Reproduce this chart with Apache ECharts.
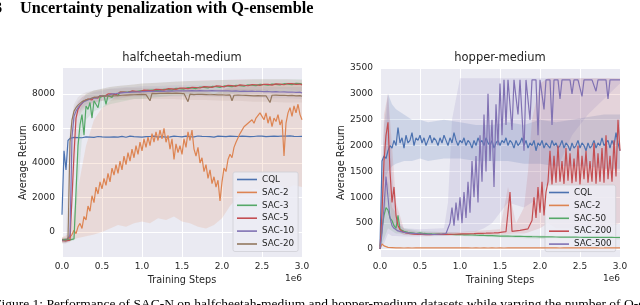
<!DOCTYPE html>
<html>
<head>
<meta charset="utf-8">
<script src="https://cdn.jsdelivr.net/npm/echarts@6/dist/echarts.min.js"></script>
<style>html,body{margin:0;padding:0;background:#fff;}#c{width:640px;height:305px;}</style>
</head>
<body>
<div id="c"></div>
<script>
// ---------- data ----------
const steps = [0,0.025,0.05,0.075,0.1,0.125,0.15,0.175,0.2,0.225,
0.25,0.275,0.3,0.325,0.35,0.375,0.4,0.425,0.45,0.475,
0.5,0.525,0.55,0.575,0.6,0.625,0.65,0.675,0.7,0.725,
0.75,0.775,0.8,0.825,0.85,0.875,0.9,0.925,0.95,0.975,
1,1.025,1.05,1.075,1.1,1.125,1.15,1.175,1.2,1.225,
1.25,1.275,1.3,1.325,1.35,1.375,1.4,1.425,1.45,1.475,
1.5,1.525,1.55,1.575,1.6,1.625,1.65,1.675,1.7,1.725,
1.75,1.775,1.8,1.825,1.85,1.875,1.9,1.925,1.95,1.975,
2,2.025,2.05,2.075,2.1,2.125,2.15,2.175,2.2,2.225,
2.25,2.275,2.3,2.325,2.35,2.375,2.4,2.425,2.45,2.475,
2.5,2.525,2.55,2.575,2.6,2.625,2.65,2.675,2.7,2.725,
2.75,2.775,2.8,2.825,2.85,2.875,2.9,2.925,2.95,2.975,
3];

const xTicks = [0, 0.5, 1, 1.5, 2, 2.5, 3];
const hcYTicks = [0, 2000, 4000, 6000, 8000];
const hpYTicks = [0, 500, 1000, 1500, 2000, 2500, 3000, 3500];

// halfcheetah-medium
const hcCQL = [1000,4700,3600,5300,5420,5450,5480,5430,5470,5500,
5460,5490,5510,5470,5500,5520,5480,5510,5530,5490,
5510,5540,5500,5520,5490,5530,5510,5550,5500,5520,
5540,5510,5490,5530,5550,5500,5520,5540,5510,5530,
5500,5540,5520,5490,5530,5510,5550,5520,5500,5540,
5520,5530,5500,5540,5510,5520,5550,5500,5530,5540,
5510,5530,5550,5500,5520,5540,5510,5530,5560,5520,
5540,5510,5530,5550,5520,5540,5500,5530,5550,5520,
5540,5560,5520,5530,5550,5510,5540,5560,5530,5520,
5550,5530,5540,5560,5520,5550,5530,5540,5560,5530,
5550,5540,5520,5560,5540,5530,5550,5570,5540,5530,
5560,5540,5550,5530,5570,5550,5540,5560,5530,5550,
5540];
const hcSac2 = [-450,-420,-480,-380,-300,-150,100,-100,300,500,
200,900,700,1500,1200,2100,1700,2600,2200,2900,
2500,3100,2700,3400,2900,3700,3300,3900,3400,4100,
3600,4400,3900,4600,4100,4800,4300,5000,4500,5200,
4700,5400,4900,5500,5000,5700,5200,5800,5300,5900,
5400,6000,5200,5600,4800,5400,4200,5100,4600,5000,
4500,5400,4900,5800,5300,5900,4800,4400,4900,4000,
4300,3500,3900,3100,3600,2800,3200,2600,3000,1800,
2900,3700,3500,4200,4500,4300,4900,5200,5300,5700,
5800,6100,6000,6300,6200,6500,6300,6600,6500,6900,
6700,6500,6900,6300,6700,6100,6600,6400,6800,6200,
6500,4400,6300,6900,7200,6700,7300,6900,7400,6800,
6500];
const hcSac3 = [-450,-480,-420,-500,-460,-430,-400,-300,5000,6200,
6800,5600,7300,7100,7500,6600,7600,7700,7200,7800,
7700,7900,7400,7900,8000,7800,8000,8050,7900,8100,
8050,8100,8000,8120,8080,8150,8050,8130,8100,8170,
8120,8180,8100,8200,8150,8220,8130,8200,8250,8180,
8230,8270,8200,8260,8300,8220,8290,8320,8250,8300,
8340,8280,8320,8360,8300,8350,8380,8310,8360,8400,
8330,8380,8410,8350,8400,8430,8370,8420,8450,8380,
8430,8460,8400,8450,8480,8420,8470,8500,8440,8480,
8510,8450,8490,8530,8460,8500,8540,8480,8520,8550,
8490,8530,8560,8500,8540,8570,8510,8550,8580,8520,
8560,8590,8530,8570,8600,8540,8580,8610,8550,8590,
8570];
const hcSac5 = [-500,-470,-520,-440,-480,-400,4500,6600,7100,7300,
7450,7600,7500,7700,7750,7650,7800,7850,7750,7900,
7900,7850,7950,8000,7900,8000,8050,7950,8050,8100,
8050,8100,8150,8080,8120,8170,8100,8150,8200,8130,
8180,8220,8150,8200,8240,8180,8230,8260,8200,8250,
8280,8220,8270,8300,8240,8290,8320,8260,8310,8340,
8280,8330,8360,8300,8350,8380,8320,8370,8400,8340,
8390,8420,8360,8410,8440,8380,8430,8460,8400,8450,
8470,8410,8460,8490,8430,8480,8500,8440,8490,8520,
8460,8500,8530,8470,8520,8540,8480,8530,8550,8490,
8540,8560,8500,8550,8570,8510,8560,8580,8520,8570,
8590,8530,8580,8600,8540,8590,8610,8550,8600,8570,
8520];
const hcSac10 = [-480,-450,-500,-420,-200,5500,6700,7000,7200,7350,
7450,7550,7600,7650,7700,7750,7800,7750,7850,7880,
7900,7850,7950,7920,7970,8000,7950,8020,8000,8050,
8020,8070,8040,8090,8050,8100,8060,8110,8080,8120,
8070,8130,8090,8140,8100,8150,8090,8140,8110,8160,
8100,8150,8120,8170,8110,8160,8130,8180,8120,8170,
8130,8180,8120,8170,8140,8190,8130,8170,8150,8190,
8140,8180,8130,8170,8150,8190,8130,8170,8140,8180,
8120,8170,8140,8180,8110,8160,8130,8170,8100,8150,
8120,8160,8100,8150,8110,8160,8090,8140,8100,8150,
8080,8130,8100,8140,8070,8120,8090,8130,8060,8110,
8080,8120,8050,8100,8070,8110,8040,8090,8060,8100,
8050];
const hcSac20 = [-450,-430,-500,-380,5200,6500,7000,7200,7350,7450,
7550,7600,7650,7700,7720,7760,7800,7780,7830,7850,
7870,7840,7880,7900,7870,7910,7890,7930,7900,7940,
7920,7960,7930,7980,7940,7990,7950,8000,7960,8010,
7970,8020,7960,8010,7600,8030,7970,8020,7990,8030,
7980,8030,7990,8040,7980,8030,8000,8040,7990,8030,
7980,8020,7970,7550,7990,8020,7960,8010,7980,8020,
7970,8010,7960,8000,7950,8010,7960,8000,7940,7990,
7950,7990,7930,7980,7940,7600,7920,7970,7930,7980,
7920,7960,7910,7950,7900,7960,7890,7940,7900,7950,
7880,7930,7890,7940,7500,7920,7880,7930,7860,7910,
7870,7920,7850,7900,7860,7910,7840,7890,7850,7900,
7860];

// halfcheetah bands
const hcSac2BandX = [0,0.1,0.2,0.3,0.4,0.5,0.6,0.7,0.8,0.9,1,1.1,1.2,1.3,1.4,1.5,1.6,1.7,1.8,1.9,2,2.1,2.2,2.3,2.4,2.5,2.6,2.7,2.8,2.9,3];
const hcSac2Lo = [-550,-500,-350,-250,-150,0,200,400,300,500,600,500,800,700,900,600,500,300,200,400,800,1500,2000,2300,2500,2400,2600,2800,2500,2700,2600];
const hcSac2Hi = [-300,-100,2500,5000,6500,7200,7600,7900,8000,8100,8200,8200,8300,8300,8300,8350,8400,8300,8200,8000,8200,8400,8500,8500,8550,8600,8600,8600,8650,8650,8650];
const hcBandX = [0,0.05,0.1,0.15,0.2,0.25,0.3,0.4,0.5,0.6,0.7,0.8,0.9,1,1.2,1.4,1.6,1.8,2,2.2,2.4,2.6,2.8,3];
const hcSac3Lo = [-600,-600,-550,-500,2500,5500,6500,7000,7200,7400,7500,7600,7700,7700,7800,7900,7900,8000,8000,8050,8100,8100,8150,8150];
const hcSac3Hi = [-350,-350,-300,-200,6500,7600,8000,8200,8300,8400,8450,8500,8550,8600,8650,8700,8750,8750,8800,8800,8850,8850,8850,8850];
const hcSac5Lo = [-650,-650,-600,3000,6600,7000,7200,7400,7600,7700,7800,7800,7900,7900,8000,8100,8100,8150,8150,8200,8200,8250,8250,8200];
const hcSac5Hi = [-350,-350,-300,5800,7500,7800,8000,8200,8300,8400,8450,8500,8550,8600,8650,8700,8750,8800,8800,8850,8850,8850,8850,8800];
const hcSac10Lo = [-650,-650,-500,5800,6800,7100,7300,7500,7600,7700,7700,7800,7800,7800,7850,7850,7850,7850,7800,7800,7800,7750,7750,7700];
const hcSac10Hi = [-350,-350,1500,7200,7600,7800,7900,8100,8200,8300,8350,8400,8400,8450,8450,8500,8500,8500,8450,8450,8450,8400,8400,8400];
const hcSac20Lo = [-650,-650,4000,6300,6900,7200,7400,7500,7600,7600,7650,7650,7700,7700,7700,7700,7650,7650,7600,7600,7550,7550,7500,7500];
const hcSac20Hi = [-300,-300,6000,7400,7800,8000,8100,8200,8250,8300,8300,8350,8350,8350,8350,8350,8350,8300,8300,8300,8250,8250,8200,8200];

// hopper-medium
const hpCQL = [50,1700,1800,1750,1900,2000,1950,2100,2000,2350,
2050,2150,1950,2200,2050,2100,2250,2000,2150,2100,
2200,2050,2150,2000,2100,2200,2050,2150,2100,2000,
2150,2050,2200,2100,2000,2150,2050,2250,2100,2000,
2100,2050,2150,2000,2100,2050,1950,2100,2000,2150,
2050,2100,2000,2150,2050,2000,2100,1950,2050,2100,
2000,2100,2050,2150,2000,2100,2050,1950,2100,2000,
2050,2150,2000,2100,1950,2050,2000,2100,1900,2050,
2000,2100,1950,2050,2000,1950,2100,2000,2050,1950,
2000,2100,1950,2050,2000,1900,2050,1950,2000,2100,
1950,2050,2000,1900,2050,1950,2000,2100,1950,2050,
2000,2150,2000,2050,2100,1950,2100,2000,2250,2050,
1900];
const hpSac2 = [0,100,60,40,30,28,25,22,20,20,
20,21,19,20,22,20,19,21,20,20,
21,19,20,20,22,19,20,21,20,19,
20,21,20,19,20,22,20,19,21,20,
20,19,21,20,20,22,19,20,21,20,
19,20,21,20,19,20,22,20,19,21,
20,20,19,21,20,22,20,19,20,21,
20,19,20,21,20,20,22,19,20,21,
20,19,21,20,20,19,21,20,22,20,
19,20,21,20,20,19,21,20,20,22,
20,19,20,21,20,19,20,21,20,20,
19,21,20,20,22,19,20,21,20,19,
20];
const hpSac50 = [0,400,650,800,750,600,550,450,400,650,
380,360,340,330,320,315,310,305,300,300,
310,305,300,298,295,295,292,290,290,288,
287,285,285,283,282,280,280,278,277,276,
280,275,274,273,272,270,270,268,267,266,
265,264,262,262,260,258,258,256,255,254,
250,252,250,248,248,247,246,245,244,243,
243,242,241,240,240,239,238,238,237,236,
235,236,235,234,234,233,233,232,232,231,
231,230,230,230,229,229,228,228,228,227,
227,227,226,226,226,225,225,225,225,224,
224,224,224,223,223,223,223,222,222,222,
222];
const hpSac200 = [0,700,1700,2200,2450,1500,900,1200,650,450,
380,340,320,310,300,295,290,288,285,283,
280,282,280,278,280,279,281,280,282,281,
283,282,284,283,285,284,286,285,287,288,
290,291,293,292,294,295,297,296,298,300,
301,303,302,305,306,308,307,310,311,313,
320,325,330,335,330,1100,340,345,350,355,
360,370,375,380,390,420,550,1000,600,1200,
700,1300,650,1100,1300,1900,1250,1800,1280,2000,
1300,1700,1260,1950,1320,1850,1270,1750,1300,2000,
1250,1800,1350,1900,1280,1700,1300,2050,1260,1850,
1300,1950,1280,2200,1350,1800,1300,2100,1400,2500,
1900];
const hpSac500 = [0,300,800,1400,1000,600,450,400,380,350,
340,330,320,315,310,305,300,300,295,295,
290,290,290,285,285,285,280,280,280,285,
285,290,290,300,320,500,800,450,900,550,
1000,500,1100,600,1300,700,1700,1000,1800,900,
2200,1300,2600,1500,3000,1700,2500,1200,2800,2000,
3200,2200,3270,2400,3270,3270,2300,3270,3270,2600,
3270,3270,1900,3270,3270,2500,3270,3270,3270,2200,
3270,3270,2700,3270,3270,3270,2400,3270,3270,3270,
2900,3270,3270,3270,3270,3270,3000,3270,3270,3270,
3270,2950,3270,3270,3270,3270,3270,3270,3050,3270,
3270,3270,3270,3270,2900,3270,3270,3270,3270,3270,
3270];

// hopper bands
const hpCqlBandX = [0,0.05,0.1,0.15,0.2,0.3,0.4,0.5,0.6,0.8,1,1.2,1.4,1.6,1.8,2,2.2,2.4,2.6,2.8,3];
const hpCqlLo = [0,1300,1500,1600,1650,1700,1700,1750,1700,1750,1750,1700,1700,1700,1650,1650,1600,1600,1600,1550,1550];
const hpCqlHi = [200,2400,3000,2800,2700,2600,2500,2500,2450,2500,2450,2400,2400,2450,2400,2500,2450,2500,2550,2600,2600];
const hpSac50BandX = [0,0.05,0.1,0.15,0.2,0.25,0.3,0.5,1,2,3];
const hpSac50Lo = [0,200,400,350,300,300,280,270,250,200,190];
const hpSac50Hi = [0,1000,1300,800,700,450,400,350,310,260,250];
const hpSac200BandX = [0,0.05,0.1,0.15,0.2,0.3,0.5,1,1.5,1.6,1.7,1.8,1.85,1.9,2,2.1,2.2,2.4,2.6,2.8,3];
const hpSac200Lo = [0,600,1200,500,350,270,260,260,280,290,300,300,320,350,400,500,400,400,450,400,500];
const hpSac200Hi = [0,2600,3000,2000,900,380,320,330,380,1200,500,800,1500,2500,3200,3300,3300,3300,3300,3300,3300];
const hpSac500BandX = [0,0.05,0.1,0.15,0.2,0.3,0.5,0.8,0.85,0.9,1,1.1,1.2,1.3,1.4,1.5,1.6,1.8,2,2.2,2.4,2.6,2.8,3];
const hpSac500Lo = [0,100,300,250,250,240,240,250,260,300,320,330,340,400,500,700,900,800,1000,1500,2200,2600,2900,3200];
const hpSac500Hi = [0,1500,3000,1500,600,400,380,400,900,2500,3300,3300,3300,3300,3300,3300,3300,3300,3300,3300,3300,3300,3300,3290];

// ---------- styling ----------
const C = {blue:'#4C72B0', orange:'#DD8452', green:'#55A868', red:'#C44E52', purple:'#8172B3', brown:'#937860'};
const TXT = '#262626';
const FONT = 'DejaVu Sans';

function rgba(hex, a){
  const n = parseInt(hex.slice(1),16);
  return 'rgba(' + (n>>16&255) + ',' + (n>>8&255) + ',' + (n&255) + ',' + a + ')';
}
function lineSeries(idx, name, ys, color, z){
  return {
    type:'line', name:name, xAxisIndex:idx, yAxisIndex:idx,
    data: steps.map((x,i)=>[x, ys[i]]),
    showSymbol:false, symbol:'none', clip:true, z:z,
    color: color,
    lineStyle:{color:color, width:1.2},
    itemStyle:{color:color},
    emphasis:{disabled:true}, silent:true
  };
}
function bandSeries(idx, xs, lo, hi, color, a){
  const data = xs.map((x,i)=>[x, lo[i], hi[i]]);
  return {
    type:'custom', xAxisIndex:idx, yAxisIndex:idx, silent:true, clip:true, z:1,
    data: data, encode:{x:0, y:[1,2]},
    renderItem: function(params, api){
      if (params.dataIndex !== 0) return null;
      const top = [], bot = [];
      for (let i=0;i<data.length;i++){
        top.push(api.coord([data[i][0], data[i][2]]));
        bot.push(api.coord([data[i][0], data[i][1]]));
      }
      return {type:'polygon', shape:{points: top.concat(bot.reverse())}, style:{fill: rgba(color, a)}};
    }
  };
}
function xAxis(idx){
  return {
    type:'value', gridIndex:idx, min:0, max:3, interval:0.5,
    name:'Training Steps', nameLocation:'middle', nameGap:17,
    nameTextStyle:{color:TXT, fontFamily:FONT, fontSize:9.7},
    axisLine:{show:false}, axisTick:{show:false},
    axisLabel:{color:TXT, fontFamily:FONT, fontSize:9, margin:5, formatter: v => v.toFixed(1)},
    splitLine:{show:true, lineStyle:{color:'#ffffff', width:1}}
  };
}
function yAxis(idx, min, max, ticks){
  return {
    type:'value', gridIndex:idx, min:min, max:max,
    name:'Average Return', nameLocation:'middle', nameGap:28,
    nameTextStyle:{color:TXT, fontFamily:FONT, fontSize:9.7},
    axisLine:{show:false}, axisTick:{show:false, customValues: ticks},
    axisLabel:{color:TXT, fontFamily:FONT, fontSize:9, margin:7, customValues: ticks, formatter: v => String(v)},
    splitLine:{show:true, lineStyle:{color:'#ffffff', width:1}}
  };
}
function legend(left, top, names){
  return {
    orient:'vertical', left:left, top:top, data:names,
    icon:'rect', itemWidth:20, itemHeight:1.6, itemGap:3.9,
    padding:[3,4,3,4],
    backgroundColor:'rgba(236,236,244,0.85)', borderColor:'#cfcfd6', borderWidth:0.8, borderRadius:2,
    textStyle:{color:TXT, fontFamily:FONT, fontSize:8.8, padding:[0,0,0,0]},
    itemStyle:{borderWidth:0}, selectedMode:false
  };
}

const chart = echarts.init(document.getElementById('c'), null, {renderer:'canvas'});
chart.setOption({
  animation:false,
  backgroundColor:'#ffffff',
  title:[
    {text:'halfcheetah-medium', left:182, top:52, textAlign:'center', padding:0,
     textStyle:{color:TXT, fontFamily:FONT, fontSize:11.5, fontWeight:'normal'}},
    {text:'hopper-medium', left:500, top:52, textAlign:'center', padding:0,
     textStyle:{color:TXT, fontFamily:FONT, fontSize:11.5, fontWeight:'normal'}}
  ],
  grid:[
    {left:62, top:68, width:240, height:189, show:true, backgroundColor:'#EAEAF2', borderWidth:0},
    {left:380, top:68, width:240, height:189, show:true, backgroundColor:'#EAEAF2', borderWidth:0}
  ],
  xAxis:[xAxis(0), xAxis(1)],
  yAxis:[yAxis(0, -1450, 9500, hcYTicks), yAxis(1, -155, 3500, hpYTicks)],
  legend:[
    legend(233, 172, ['CQL','SAC-2','SAC-3','SAC-5','SAC-10','SAC-20']),
    legend(545, 185, ['CQL','SAC-2','SAC-50','SAC-200','SAC-500'])
  ],
  graphic:[
    {type:'text', left:-6, top:1, style:{text:'3', font:'bold 16.3px "Liberation Serif"', fill:'#000'}},
    {type:'text', left:20, top:1, style:{text:'Uncertainty penalization with Q-ensemble', font:'bold 16.3px "Liberation Serif"', fill:'#000'}},
    {type:'text', left:-6, top:297, style:{text:'Figure 1: Performance of SAC-N on halfcheetah-medium and hopper-medium datasets while varying the number of Q-ensembles', font:'13.5px "Liberation Serif"', fill:'#000'}},
    {type:'text', right:338, top:274, style:{text:'1e6', font:'9px "DejaVu Sans"', fill:TXT}},
    {type:'text', right:20, top:274, style:{text:'1e6', font:'9px "DejaVu Sans"', fill:TXT}}
  ],
  series:[
    bandSeries(0, hcSac2BandX, hcSac2Lo, hcSac2Hi, C.orange, 0.16),
    bandSeries(0, hcBandX, hcSac3Lo, hcSac3Hi, C.green, 0.12),
    bandSeries(0, hcBandX, hcSac5Lo, hcSac5Hi, C.red, 0.10),
    bandSeries(0, hcBandX, hcSac10Lo, hcSac10Hi, C.purple, 0.10),
    bandSeries(0, hcBandX, hcSac20Lo, hcSac20Hi, C.brown, 0.10),
    lineSeries(0, 'CQL', hcCQL, C.blue, 3),
    lineSeries(0, 'SAC-2', hcSac2, C.orange, 4),
    lineSeries(0, 'SAC-3', hcSac3, C.green, 5),
    lineSeries(0, 'SAC-5', hcSac5, C.red, 6),
    lineSeries(0, 'SAC-10', hcSac10, C.purple, 7),
    lineSeries(0, 'SAC-20', hcSac20, C.brown, 8),

    bandSeries(1, hpCqlBandX, hpCqlLo, hpCqlHi, C.blue, 0.18),
    bandSeries(1, hpSac50BandX, hpSac50Lo, hpSac50Hi, C.green, 0.15),
    bandSeries(1, hpSac200BandX, hpSac200Lo, hpSac200Hi, C.red, 0.15),
    bandSeries(1, hpSac500BandX, hpSac500Lo, hpSac500Hi, C.purple, 0.15),
    lineSeries(1, 'CQL', hpCQL, C.blue, 3),
    lineSeries(1, 'SAC-2', hpSac2, C.orange, 4),
    lineSeries(1, 'SAC-50', hpSac50, C.green, 5),
    lineSeries(1, 'SAC-200', hpSac200, C.red, 6),
    lineSeries(1, 'SAC-500', hpSac500, C.purple, 7)
  ]
});
</script>
</body>
</html>
